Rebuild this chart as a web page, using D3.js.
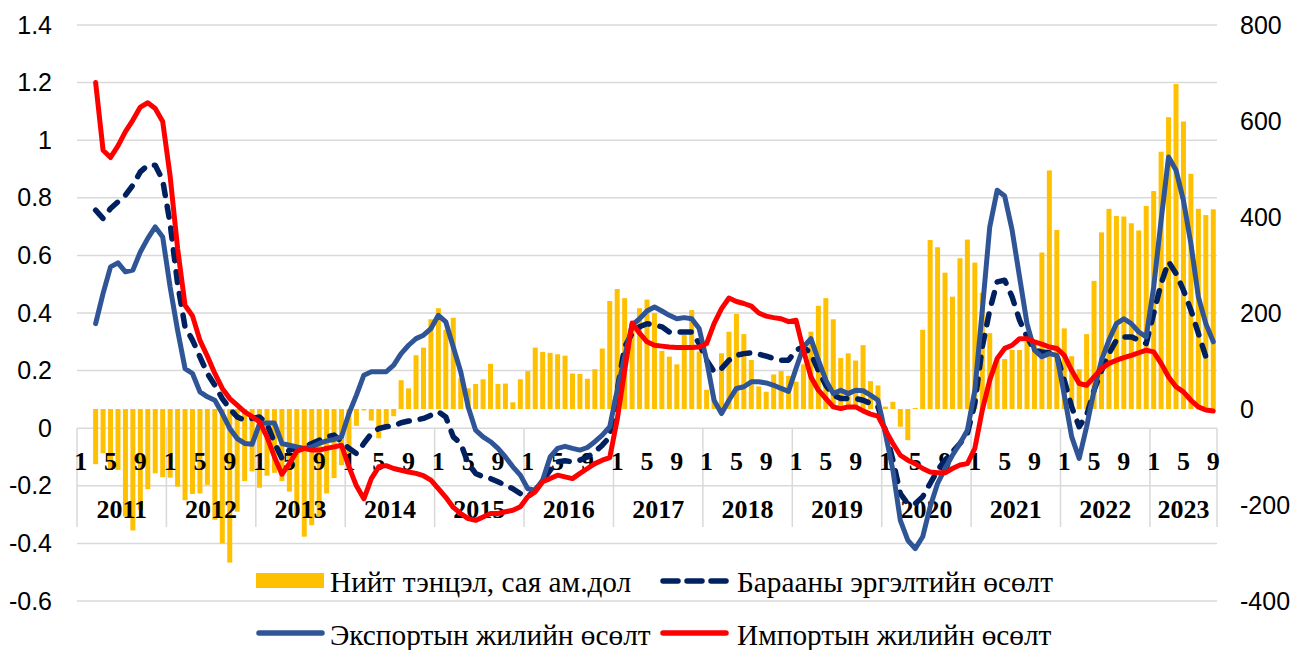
<!DOCTYPE html>
<html>
<head>
<meta charset="utf-8">
<script src="https://cdn.jsdelivr.net/npm/d3@7"></script>
<style>
  body { margin: 0; background: #fff; }
</style>
</head>
<body>
<div id="chart"></div>
<script>
// categories
const years = [2011, 2012, 2013, 2014, 2015, 2016, 2017, 2018, 2019, 2020, 2021, 2022, 2023];
const lastYearMonths = 9;
const monthLabels = [1, 5, 9];
const leftTicks = [-0.6, -0.4, -0.2, 0, 0.2, 0.4, 0.6, 0.8, 1.0, 1.2, 1.4];
const rightTicks = [-400, -200, 0, 200, 400, 600, 800];

// monthly series, Jan 2011 .. Sep 2023 (Jan/Feb 2011 empty)
const balance = [null, null,
  -115, -92, -127, -127, -224, -253, -210, -167, -134, -142,
  -143, -162, -190, -177, -176, -158, -231, -280, -320, -214, -150, -130,
  -164, -139, -133, -150, -172, -221, -266, -242, -224, -176, -144, -117,
  -92, -35, -3, -24, -61, -35, -15, 60, 43, 112, 128, 187,
  210, 165, 190, 64, 43, 52, 62, 94, 52, 53, 14, 62,
  79, 128, 119, 117, 114, 111, 74, 73, 63, 83, 126, 225,
  250, 231, 178, 210, 228, 200, 121, 109, 93, 154, 206, 120,
  40, 20, 116, 161, 198, 156, 102, 47, 36, 72, 79, 69,
  57, 93, 161, 215, 231, 187, 106, 116, 101, 133, 58, 49,
  5, 15, -37, -65, 2, 165, 352, 337, 284, 234, 314, 353,
  305, 242, 158, 103, 104, 123, 123, 140, 140, 326, 497, 373,
  168, 110, 83, 156, 267, 368, 417, 402, 401, 387, 372, 423,
  454, 536, 608, 677, 599, 490, 417, 404, 416];

const turnover = [null, null,
  0.757, 0.728, 0.763, 0.786, 0.809, 0.844, 0.89, 0.913, 0.913, 0.861,
  0.71, 0.502, 0.352, 0.306, 0.248, 0.19, 0.149, 0.103, 0.068, 0.039, 0.028, 0.034,
  0.039, 0.016, -0.05, -0.105, -0.076, -0.07, -0.065, -0.053, -0.042, -0.03, -0.024, -0.047,
  -0.07, -0.088, -0.053, -0.019, -0.001, 0.005, 0.007, 0.019, 0.025, 0.028, 0.034, 0.045,
  0.057, 0.039, -0.03, -0.053, -0.123, -0.157, -0.169, -0.175, -0.186, -0.198, -0.21, -0.227,
  -0.238, -0.215, -0.18, -0.146, -0.117, -0.113, -0.117, -0.111, -0.1, -0.082, -0.059, -0.03,
  0.132, 0.282, 0.329, 0.352, 0.363, 0.358, 0.352, 0.334, 0.334, 0.334, 0.334, 0.294,
  0.236, 0.196, 0.207, 0.236, 0.253, 0.259, 0.262, 0.257, 0.25, 0.242, 0.236, 0.236,
  0.271, 0.282, 0.259, 0.2, 0.149, 0.115, 0.103, 0.103, 0.103, 0.097, 0.086, 0.074,
  -0.007, -0.111, -0.227, -0.262, -0.262, -0.238, -0.192, -0.146, -0.111, -0.082, -0.053, -0.019,
  0.086, 0.282, 0.41, 0.508, 0.514, 0.456, 0.375, 0.317, 0.271, 0.265, 0.262, 0.253,
  0.167, 0.074, 0.005, 0.045, 0.132, 0.2, 0.259, 0.306, 0.317, 0.317, 0.306, 0.294,
  0.398, 0.502, 0.578, 0.537, 0.479, 0.41, 0.329, 0.248, 0.225];

const exports = [null, null,
  0.363, 0.468, 0.56, 0.574, 0.543, 0.549, 0.612, 0.659, 0.699, 0.664,
  0.49, 0.34, 0.207, 0.19, 0.126, 0.109, 0.097, 0.051, -0.001, -0.036, -0.053, -0.056,
  0.016, 0.018, 0.018, -0.053, -0.059, -0.065, -0.07, -0.065, -0.053, -0.044, -0.039, -0.03,
  0.051, 0.115, 0.184, 0.196, 0.196, 0.196, 0.219, 0.259, 0.288, 0.311, 0.323, 0.346,
  0.392, 0.369, 0.282, 0.196, 0.074, -0.007, -0.03, -0.047, -0.07, -0.1, -0.134, -0.163,
  -0.21, -0.215, -0.18, -0.1, -0.07, -0.063, -0.07, -0.076, -0.067, -0.047, -0.024, 0.005,
  0.132, 0.248, 0.358, 0.38, 0.407, 0.421, 0.407, 0.392, 0.38, 0.384, 0.38, 0.346,
  0.236, 0.097, 0.051, 0.097, 0.138, 0.144, 0.161, 0.161, 0.157, 0.149, 0.138, 0.128,
  0.207, 0.282, 0.311, 0.236, 0.167, 0.12, 0.132, 0.12, 0.132, 0.13, 0.115, 0.097,
  -0.019, -0.146, -0.32, -0.389, -0.418, -0.377, -0.273, -0.192, -0.14, -0.094, -0.053, -0.007,
  0.132, 0.41, 0.699, 0.826, 0.806, 0.688, 0.525, 0.363, 0.271, 0.248, 0.259, 0.253,
  0.115, -0.03, -0.105, 0.005, 0.132, 0.236, 0.306, 0.363, 0.38, 0.363, 0.334, 0.317,
  0.49, 0.722, 0.942, 0.896, 0.79, 0.64, 0.456, 0.363, 0.3];

const imports = [null, null,
  1.2, 0.965, 0.94, 0.98, 1.03, 1.07, 1.115, 1.13, 1.11, 1.065,
  0.875, 0.625, 0.427, 0.39, 0.305, 0.25, 0.19, 0.138, 0.103, 0.08, 0.057, 0.04,
  0.022, -0.03, -0.1, -0.16, -0.123, -0.08, -0.07, -0.076, -0.076, -0.07, -0.065, -0.059,
  -0.134, -0.2, -0.245, -0.175, -0.134, -0.13, -0.14, -0.146, -0.152, -0.157, -0.165, -0.18,
  -0.21, -0.24, -0.275, -0.296, -0.314, -0.32, -0.308, -0.296, -0.296, -0.29, -0.285, -0.273,
  -0.238, -0.221, -0.186, -0.175, -0.163, -0.169, -0.175, -0.157, -0.14, -0.123, -0.111, -0.102,
  0.03, 0.2, 0.365, 0.33, 0.3, 0.288, 0.285, 0.282, 0.28, 0.28, 0.28, 0.282,
  0.294, 0.363, 0.415, 0.452, 0.44, 0.433, 0.424, 0.4, 0.389, 0.384, 0.38, 0.37,
  0.375, 0.27, 0.178, 0.132, 0.103, 0.074, 0.068, 0.074, 0.074, 0.06, 0.049, 0.042,
  -0.007, -0.053, -0.094, -0.111, -0.123, -0.14, -0.152, -0.155, -0.155, -0.14, -0.128, -0.123,
  -0.07, 0.063, 0.167, 0.242, 0.277, 0.288, 0.311, 0.311, 0.3, 0.292, 0.282, 0.277,
  0.253, 0.2, 0.155, 0.149, 0.178, 0.207, 0.225, 0.236, 0.245, 0.253, 0.262, 0.271,
  0.265, 0.225, 0.178, 0.144, 0.126, 0.097, 0.074, 0.063, 0.06];

const legendItems = [
  { label: 'Нийт тэнцэл, сая ам.дол', type: 'bar' },
  { label: 'Барааны эргэлтийн өсөлт', type: 'dash' },
  { label: 'Экспортын жилийн өсөлт', type: 'blue' },
  { label: 'Импортын жилийн өсөлт', type: 'red' }
];

const width = 1295, height = 650;
const plotLeft = 77, plotRight = 1217;
const serif = '"Liberation Serif", "Times New Roman", serif';
const sans = '"Liberation Sans", Arial, sans-serif';
const colors = { bar: '#FFC000', dash: '#002060', blue: '#2F5597', red: '#FF0000', grid: '#D9D9D9' };

// month categories
const cats = [];
years.forEach((yr) => {
  const n = yr === years[years.length - 1] ? lastYearMonths : 12;
  for (let m = 1; m <= n; m++) cats.push({ key: `${yr}-${m}`, year: yr, month: m });
});
cats.forEach((c, i) => {
  c.balance = balance[i];
  c.turnover = turnover[i];
  c.exports = exports[i];
  c.imports = imports[i];
});

const svg = d3.select('#chart').append('svg')
  .attr('width', width)
  .attr('height', height);

const x = d3.scaleBand()
  .domain(cats.map((d) => d.key))
  .range([plotLeft, plotRight])
  .paddingInner(0.33)
  .paddingOuter(0.165);
const xc = (key) => x(key) + x.bandwidth() / 2;
const half = (x.step() - x.bandwidth()) / 2;

const yL = d3.scaleLinear().domain([-0.6, 1.4]).range([601, 25]);
const yR = d3.scaleLinear().domain([-400, 800]).range([601, 25]);

// gridlines
svg.append('g').selectAll('line')
  .data(leftTicks)
  .enter().append('line')
    .attr('x1', plotLeft)
    .attr('x2', plotRight)
    .attr('y1', (d) => yL(d))
    .attr('y2', (d) => yL(d))
    .attr('stroke', colors.grid)
    .attr('stroke-width', 1.5);

// year separators of the category axis
const yearSpans = years.map((yr) => {
  const ks = cats.filter((c) => c.year === yr);
  return {
    year: yr,
    x0: x(ks[0].key) - half,
    x1: x(ks[ks.length - 1].key) + x.bandwidth() + half
  };
});
const seps = yearSpans.map((d) => d.x0).concat([yearSpans[yearSpans.length - 1].x1]);
svg.append('g').selectAll('line')
  .data(seps)
  .enter().append('line')
    .attr('x1', (d) => d)
    .attr('x2', (d) => d)
    .attr('y1', yL(0))
    .attr('y2', 527)
    .attr('stroke', colors.grid)
    .attr('stroke-width', 1.5);

// left axis
const axL = svg.append('g')
  .attr('transform', `translate(${plotLeft},0)`)
  .call(d3.axisLeft(yL).tickValues(leftTicks).tickSize(0).tickPadding(25)
    .tickFormat((d) => String(+d.toFixed(1))));
axL.select('.domain').remove();
axL.selectAll('text').attr('font-family', sans).attr('font-size', 25).attr('fill', '#000');

// right axis
const axR = svg.append('g')
  .attr('transform', `translate(${plotRight},0)`)
  .call(d3.axisRight(yR).tickValues(rightTicks).tickSize(0).tickPadding(23)
    .tickFormat((d) => String(d)));
axR.select('.domain').remove();
axR.selectAll('text').attr('font-family', sans).attr('font-size', 25).attr('fill', '#000');

// bars
svg.append('g').selectAll('rect')
  .data(cats.filter((d) => d.balance != null))
  .enter().append('rect')
    .attr('x', (d) => x(d.key))
    .attr('width', x.bandwidth())
    .attr('y', (d) => yR(Math.max(0, d.balance)))
    .attr('height', (d) => Math.abs(yR(d.balance) - yR(0)))
    .attr('fill', colors.bar);

// category labels
svg.append('g').selectAll('text')
  .data(cats.filter((d) => monthLabels.includes(d.month)))
  .enter().append('text')
    .attr('x', (d) => xc(d.key))
    .attr('y', 470)
    .attr('text-anchor', 'middle')
    .attr('font-family', serif)
    .attr('font-weight', 'bold')
    .attr('font-size', 26)
    .text((d) => d.month);

svg.append('g').selectAll('text')
  .data(yearSpans)
  .enter().append('text')
    .attr('x', (d) => (d.x0 + d.x1) / 2)
    .attr('y', 518)
    .attr('text-anchor', 'middle')
    .attr('font-family', serif)
    .attr('font-weight', 'bold')
    .attr('font-size', 26)
    .text((d) => d.year);

// lines
const series = [
  { key: 'turnover', color: colors.dash, dash: '11,11', w: 5.5 },
  { key: 'exports', color: colors.blue, dash: null, w: 5 },
  { key: 'imports', color: colors.red, dash: null, w: 5 }
];
series.forEach((s) => {
  const line = d3.line()
    .defined((d) => d[s.key] != null)
    .x((d) => xc(d.key))
    .y((d) => yL(d[s.key]));
  svg.append('path')
    .datum(cats)
    .attr('d', line)
    .attr('fill', 'none')
    .attr('stroke', s.color)
    .attr('stroke-width', s.w)
    .attr('stroke-linejoin', 'round')
    .attr('stroke-linecap', 'round')
    .attr('stroke-dasharray', s.dash);
});

// legend
const legPos = [[256, 581], [660, 581], [256, 633], [660, 633]];
const leg = svg.append('g').selectAll('g')
  .data(legendItems)
  .enter().append('g')
    .attr('transform', (d, i) => `translate(${legPos[i][0]},${legPos[i][1]})`);
leg.each(function (d) {
  const g = d3.select(this);
  if (d.type === 'bar') {
    g.append('rect').attr('x', 0).attr('y', -8).attr('width', 68).attr('height', 15).attr('fill', colors.bar);
  } else {
    g.append('line')
      .attr('x1', 3).attr('x2', 66)
      .attr('y1', 0).attr('y2', 0)
      .attr('stroke', colors[d.type])
      .attr('stroke-width', 5.5)
      .attr('stroke-linecap', 'round')
      .attr('stroke-dasharray', d.type === 'dash' ? '15,9' : null);
  }
});
leg.append('text')
  .attr('x', (d, i) => (i % 2 === 0 ? 74 : 77))
  .attr('y', (d, i) => (i < 2 ? 11 : 12))
  .attr('font-family', serif)
  .attr('font-size', 29.3)
  .attr('fill', '#000')
  .text((d) => d.label);
</script>
</body>
</html>
